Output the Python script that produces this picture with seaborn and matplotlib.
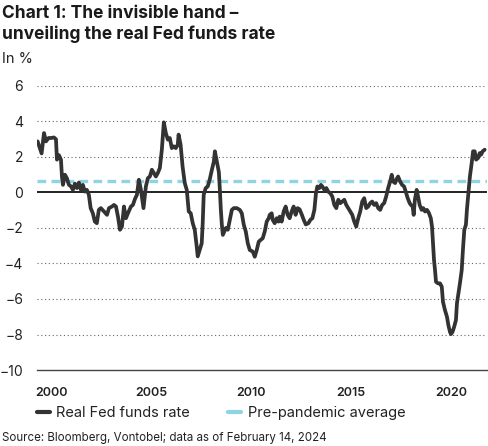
import numpy as np
import pandas as pd
import seaborn as sns
import matplotlib.pyplot as plt
from matplotlib.lines import Line2D

# values (x in chart years, y in %)
years = [
    1999.28, 1999.48, 1999.60, 1999.70, 1999.83, 1999.95, 2000.10, 2000.20, 2000.25, 2000.35,
    2000.45, 2000.50, 2000.55, 2000.65, 2000.75, 2000.85, 2000.95, 2001.05, 2001.15, 2001.25,
    2001.35, 2001.45, 2001.55, 2001.65, 2001.75, 2001.85, 2001.94, 2002.05, 2002.15, 2002.25,
    2002.35, 2002.45, 2002.61, 2002.76, 2002.86, 2003.01, 2003.11, 2003.21, 2003.31, 2003.41,
    2003.51, 2003.61, 2003.71, 2003.81, 2003.96, 2004.06, 2004.16, 2004.26, 2004.36, 2004.46,
    2004.59, 2004.71, 2004.81, 2004.91, 2005.01, 2005.11, 2005.21, 2005.31, 2005.41, 2005.51,
    2005.61, 2005.71, 2005.81, 2005.91, 2006.01, 2006.11, 2006.21, 2006.31, 2006.35, 2006.45,
    2006.55, 2006.66, 2006.76, 2006.86, 2006.96, 2007.06, 2007.16, 2007.26, 2007.31, 2007.41,
    2007.51, 2007.56, 2007.61, 2007.71, 2007.81, 2007.91, 2008.02, 2008.12, 2008.17, 2008.27,
    2008.37, 2008.42, 2008.47, 2008.52, 2008.57, 2008.72, 2008.82, 2008.92, 2009.02, 2009.12,
    2009.27, 2009.42, 2009.52, 2009.62, 2009.72, 2009.82, 2009.92, 2010.07, 2010.17, 2010.27,
    2010.37, 2010.47, 2010.57, 2010.67, 2010.77, 2010.87, 2010.92, 2011.02, 2011.07, 2011.17,
    2011.27, 2011.36, 2011.42, 2011.52, 2011.62, 2011.72, 2011.82, 2011.92, 2012.02, 2012.12,
    2012.22, 2012.32, 2012.42, 2012.53, 2012.63, 2012.73, 2012.86, 2012.96, 2013.06, 2013.16,
    2013.24, 2013.31, 2013.41, 2013.49, 2013.56, 2013.66, 2013.76, 2013.86, 2013.96, 2014.06,
    2014.16, 2014.26, 2014.36, 2014.46, 2014.56, 2014.66, 2014.76, 2014.86, 2014.96, 2015.06,
    2015.16, 2015.26, 2015.36, 2015.46, 2015.56, 2015.66, 2015.76, 2015.86, 2015.96, 2016.06,
    2016.16, 2016.26, 2016.36, 2016.46, 2016.56, 2016.66, 2016.76, 2016.86, 2016.96, 2017.04,
    2017.11, 2017.21, 2017.31, 2017.36, 2017.46, 2017.56, 2017.66, 2017.74, 2017.84, 2017.94,
    2018.00, 2018.09, 2018.14, 2018.20, 2018.29, 2018.36, 2018.44, 2018.54, 2018.62, 2018.71,
    2018.81, 2018.91, 2019.00, 2019.06, 2019.11, 2019.16, 2019.21, 2019.26, 2019.36, 2019.46,
    2019.55, 2019.61, 2019.71, 2019.81, 2019.88, 2019.96, 2020.01, 2020.09, 2020.17, 2020.26,
    2020.31, 2020.36, 2020.46, 2020.55, 2020.61, 2020.68, 2020.76, 2020.81, 2020.90, 2020.96,
    2021.05, 2021.12, 2021.20, 2021.27, 2021.37, 2021.45, 2021.52, 2021.60, 2021.70,
]
real_rate = [
    2.88, 2.20, 3.35, 2.88, 3.07, 3.07, 3.10, 3.00, 1.85, 2.10,
    1.85, 0.90, 0.43, 1.00, 0.80, 0.43, 0.35, 0.15, 0.50, 0.25,
    0.56, 0.15, 0.43, 0.05, 0.15, -0.13, -0.88, -1.17, -1.64, -1.73,
    -0.98, -0.88, -1.07, -1.26, -0.88, -0.79, -0.70, -0.79, -1.36, -2.10,
    -1.92, -0.79, -1.45, -1.17, -0.79, -0.70, -0.37, -0.13, 0.72, 0.15,
    -0.88, 0.34, 0.81, 0.90, 1.28, 1.10, 0.90, 1.10, 1.38, 2.41,
    3.95, 3.35, 2.98, 3.07, 2.50, 2.60, 2.50, 2.70, 3.26, 2.70,
    1.47, 0.53, 0.15, -1.07, -1.17, -1.73, -2.10, -3.05, -3.60, -3.24,
    -2.86, -1.73, -0.13, 0.25, 0.34, 0.72, 1.28, 1.75, 2.32, 1.75,
    1.15, 0.15, -0.98, -1.82, -2.39, -2.00, -2.10, -1.54, -0.98, -0.88,
    -0.88, -0.98, -1.17, -1.82, -2.20, -2.86, -3.24, -3.33, -3.62, -3.24,
    -2.77, -2.67, -2.58, -2.20, -1.64, -1.45, -1.26, -1.17, -1.54, -1.73,
    -1.45, -1.64, -1.36, -1.64, -1.07, -0.79, -1.26, -1.45, -1.07, -0.79,
    -1.26, -0.88, -0.95, -1.25, -1.55, -1.80, -1.73, -1.54, -1.45, -0.98,
    -0.04, 0.34, 0.25, 0.43, 0.34, 0.15, 0.25, 0.04, -0.04, -0.23,
    -0.70, -0.88, -0.41, -0.60, -0.51, -0.41, -0.70, -0.88, -1.07, -1.26,
    -1.64, -1.92, -1.45, -1.07, -0.51, -0.32, -0.88, -0.79, -0.60, -0.51,
    -0.70, -0.60, -0.88, -0.98, -0.70, -0.60, -0.23, 0.25, 0.62, 1.00,
    0.62, 0.53, 0.81, 0.90, 0.62, 0.43, 0.34, 0.06, -0.32, -0.60,
    -0.70, -0.79, -1.26, -0.41, 0.15, -0.23, -0.70, -0.98, -0.88, -1.07,
    -0.98, -1.17, -1.45, -1.92, -2.86, -3.80, -4.37, -5.03, -5.12, -5.12,
    -5.31, -6.16, -6.63, -7.00, -7.47, -7.85, -7.98, -7.85, -7.57, -7.19,
    -6.25, -5.87, -5.12, -4.37, -3.24, -2.10, -1.82, -0.98, 0.15, 0.90,
    1.66, 2.32, 2.32, 1.85, 1.94, 2.22, 2.13, 2.32, 2.41,
]
pre_pandemic_avg = 0.62

x_ticks = [2000, 2005, 2010, 2015, 2020]
y_ticks = [-10, -8, -6, -4, -2, 0, 2, 4, 6]

title = "Chart 1: The invisible hand \u2013\nunveiling the real Fed funds rate"
unit = "In %"
source = "Source: Bloomberg, Vontobel; data as of February 14, 2024"

df = pd.DataFrame({"year": years, "rate": real_rate})

sns.set_style("white")
plt.rcParams["font.family"] = ["Inter", "DejaVu Sans"]

dark = "#333333"
cyan = "#8fd4e2"

fig = plt.figure(figsize=(4.89, 4.46), dpi=100)
ax = fig.add_axes([0.0757, 0.1704, 0.9203, 0.6368])

for v in y_ticks:
    if v not in (0, -10):
        ax.axhline(v, color="#666666", lw=0.8, ls=(0, (1, 2.4)), zorder=1)
ax.axhline(0, color="#111111", lw=1.3, zorder=2)
ax.axhline(pre_pandemic_avg, color=cyan, lw=2.4, ls=(0, (2.6, 1.6)), zorder=3)

sns.lineplot(data=df, x="year", y="rate", ax=ax, color=dark, lw=2.7, zorder=4)

ax.set_xlim(1999.25, 2021.82)
ax.set_ylim(-10, 6)
ax.set_xticks(x_ticks)
ax.set_xticklabels([str(t) for t in x_ticks], fontsize=9, fontweight="semibold", color="#222222")
ax.set_yticks(y_ticks)
ax.set_yticklabels([str(t).replace("-", "\u2212") for t in y_ticks], fontsize=10, color="#222222")
ax.tick_params(axis="y", length=0, pad=10)
ax.tick_params(axis="x", length=0, pad=12)
ax.set_xlabel("")
ax.set_ylabel("")
for s in ["top", "right", "left"]:
    ax.spines[s].set_visible(False)
ax.spines["bottom"].set_color("#444444")
ax.spines["bottom"].set_linewidth(1.0)

fig.text(0.004, 0.988, title, fontsize=12.5, fontweight="bold", color="#1a1a1a",
         va="top", ha="left", linespacing=1.2)
fig.text(0.004, 0.868, unit, fontsize=10.5, color="#222222", va="center", ha="left")
fig.text(0.004, 0.019, source, fontsize=8.3, color="#222222", va="center", ha="left")

handles = [Line2D([], [], color=dark, lw=3), Line2D([], [], color=cyan, lw=3)]
fig.legend(handles, ["Real Fed funds rate", "Pre-pandemic average"],
           loc="center left", bbox_to_anchor=(0.048, 0.074), ncol=2, frameon=False,
           fontsize=10.5, handlelength=0.9, handletextpad=0.45, columnspacing=2.6,
           labelcolor="#222222")

fig.savefig("out.png", dpi=100)
